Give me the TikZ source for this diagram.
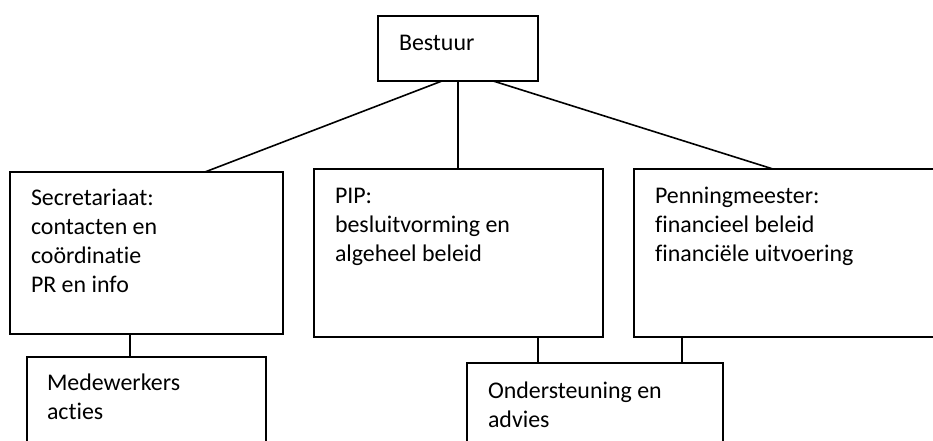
\documentclass[tikz,border=0pt]{standalone}
\usepackage{fontspec}
\setmainfont{Carlito}[Ligatures=NoCommon]
\usetikzlibrary{calc}
\tikzset{
  box/.style={draw=black, line width=1.6pt, rectangle, inner sep=0pt, outer sep=0pt, anchor=north west, fill=white},
  lbl/.style={anchor=base west, inner sep=0pt, outer sep=0pt, align=left, font=\fontsize{23.9}{29}\selectfont, text=black},
  conn/.style={draw=black, line width=1.6pt}
}
\begin{document}
\begin{tikzpicture}[x=1pt, y=-1pt]
\useasboundingbox (0,0) rectangle (933,440);
\clip (0,0) rectangle (933,440);
\fill[white] (0,0) rectangle (933,440);
% boxes
\node[box, minimum width=160pt, minimum height=65pt] (bestuur) at (378,16) {};
\node[box, minimum width=273pt, minimum height=162pt] (sec) at (10,172) {};
\node[box, minimum width=289pt, minimum height=168pt] (pip) at (314,169) {};
\node[box, minimum width=311pt, minimum height=168pt] (pen) at (634,169) {};
\node[box, minimum width=239pt, minimum height=110pt] (med) at (27,357) {};
\node[box, minimum width=256pt, minimum height=110pt] (ond) at (467,363) {};
% connectors
\draw[conn] ($(bestuur.south west)!0.4!(bestuur.south east)$) -- ($(sec.north west)!0.714!(sec.north east)$);
\draw[conn] (bestuur.south) -- (bestuur.south |- pip.north);
\draw[conn] ($(bestuur.south west)!0.72!(bestuur.south east)$) -- ($(pen.north west)!0.447!(pen.north east)$);
\coordinate (s1) at ($(sec.south west)!0.44!(sec.south east)$);
\draw[conn] (s1) -- (s1 |- med.north);
\coordinate (p1) at ($(pip.south west)!0.775!(pip.south east)$);
\draw[conn] (p1) -- (p1 |- ond.north);
\coordinate (q1) at ($(pen.south west)!0.154!(pen.south east)$);
\draw[conn] (q1) -- (q1 |- ond.north);
% texts (anchor = baseline of last line)
\node[lbl] (tbestuur) at (399,50) {Bestuur};
\node[lbl] (tsec) at (31,292) {Secretariaat:\\contacten en\\coördinatie\\PR en info};
\node[lbl] (tpip) at (335,261) {PIP:\\besluitvorming en\\algeheel beleid};
\node[lbl] (tpen) at (655,261) {Penningmeester:\\financieel beleid\\financiële uitvoering};
\node[lbl] (tmed) at (47,419) {Medewerkers\\acties};
\node[lbl] (tond) at (488,427) {Ondersteuning en\\advies};
\end{tikzpicture}
\end{document}
